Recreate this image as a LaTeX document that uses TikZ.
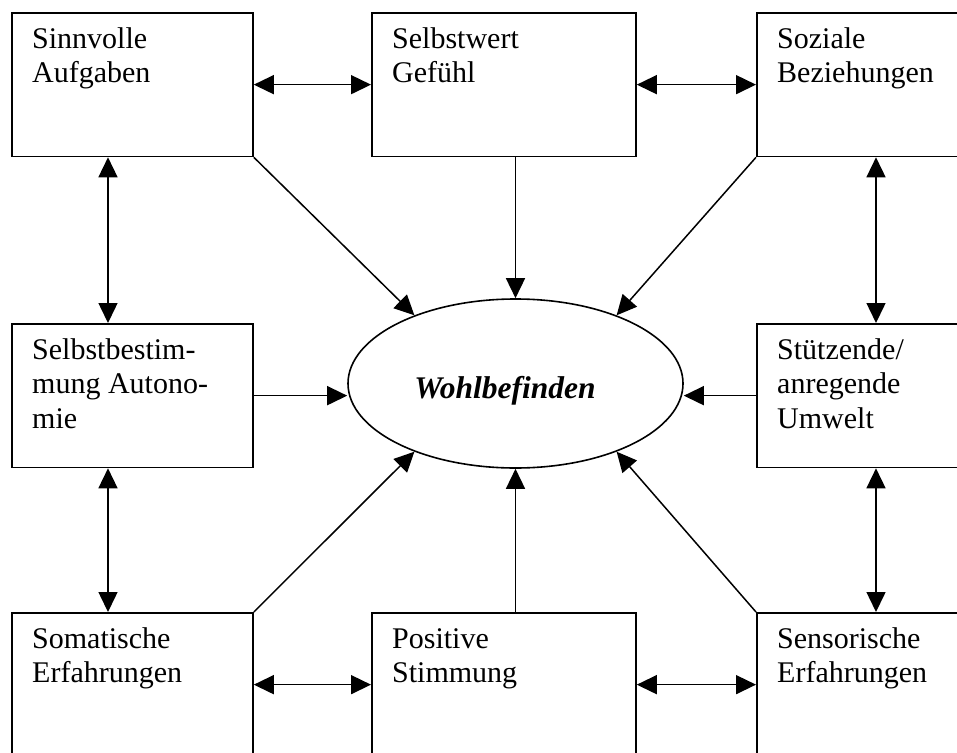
\documentclass[tikz,border=0pt]{standalone}
\usepackage{fontspec}
\setmainfont{Liberation Serif}
\usetikzlibrary{arrows.meta,shapes.geometric}
\tikzset{
  box/.style={draw=black,line width=1.8pt,rectangle,inner sep=0pt,anchor=north west,
    minimum width=241pt,minimum height=143.5pt},
  wbox/.style={box,minimum width=264pt},
  lbl/.style={anchor=base west,align=left,inner sep=0pt,font=\fontsize{30}{34.5}\selectfont},
  conn/.style={line width=1.5pt,-{Triangle[length=20pt,width=19pt]}},
  biconn/.style={line width=1.5pt,{Triangle[length=20pt,width=19pt]}-{Triangle[length=20pt,width=19pt]}}
}
\begin{document}
\begin{tikzpicture}[x=1pt,y=-1pt]
\useasboundingbox (0,0) rectangle (957,752);
\fill[white] (0,0) rectangle (957,752);
\clip (0,0) rectangle (957,752);
% boxes
\node[box]  (tl) at (11,12) {};
\node[wbox] (tm) at (371,12) {};
\node[box]  (tr) at (756,12) {};
\node[box]  (ml) at (11,323) {};
\node[box]  (mr) at (756,323) {};
\node[box]  (bl) at (11,612) {};
\node[wbox] (bm) at (371,612) {};
\node[box]  (br) at (756,612) {};
% texts (anchor = baseline of last line)
\node[lbl] (ttl) at (32,82.5)  {Sinnvolle\\Aufgaben};
\node[lbl] (ttm) at (392,82.5) {Selbstwert\\Gefühl};
\node[lbl] (ttr) at (777,82.5) {Soziale\\Beziehungen};
\node[lbl] (tml) at (32,428) {Selbstbestim-\\mung Autono-\\mie};
\node[lbl] (tmr) at (777,428) {Stützende/\\anregende\\Umwelt};
\node[lbl] (tbl) at (32,682.5) {Somatische\\Erfahrungen};
\node[lbl] (tbm) at (392,682.5) {Positive\\Stimmung};
\node[lbl] (tbr) at (777,682.5) {Sensorische\\Erfahrungen};
% ellipse
\node[draw=black,line width=1.6pt,ellipse,minimum width=335pt,minimum height=169pt,inner sep=0pt] (el) at (515.5,383.5) {};
\node[anchor=base,inner sep=0pt,font=\fontsize{31.5}{36}\selectfont\bfseries\itshape] (wb) at (505,398) {Wohlbefinden};
% connectors to ellipse
\draw[conn] (tl.south east) -- (el.146);
\draw[conn] (tr.south west) -- (el.34);
\draw[conn] (bl.north east) -- (el.214);
\draw[conn] (br.north west) -- (el.326);
\draw[conn] (tm.south -| el.north) -- (el.north);
\draw[conn] (bm.north -| el.south) -- (el.south);
\draw[conn] (ml.east) -- (ml.east -| el.west);
\draw[conn] (mr.west) -- (mr.west -| el.east);
% bidirectional
\draw[biconn] (tl.east) -- (tm.west);
\draw[biconn] (tm.east) -- (tr.west);
\draw[biconn] (bl.east) -- (bm.west);
\draw[biconn] (bm.east) -- (br.west);
\draw[biconn] ([xshift=97pt]tl.south west) -- ([xshift=97pt]ml.north west);
\draw[biconn] ([xshift=97pt]ml.south west) -- ([xshift=97pt]bl.north west);
\draw[biconn] ([xshift=120pt]tr.south west) -- ([xshift=120pt]mr.north west);
\draw[biconn] ([xshift=120pt]mr.south west) -- ([xshift=120pt]br.north west);
\end{tikzpicture}
\end{document}
